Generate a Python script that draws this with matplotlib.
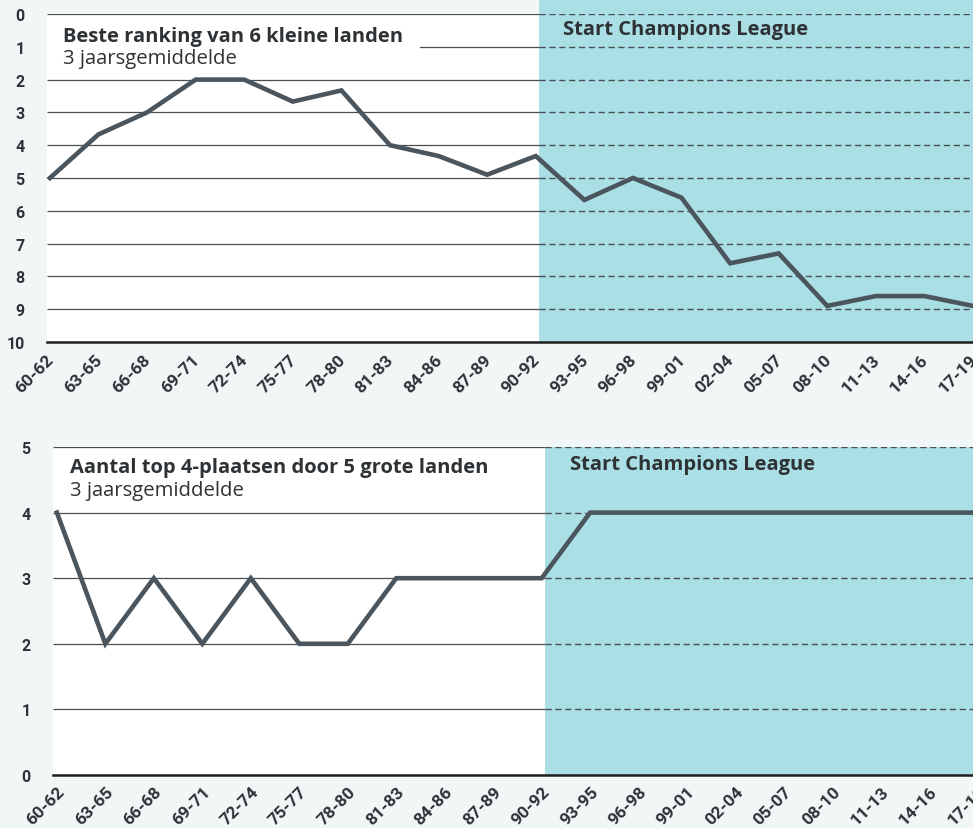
import matplotlib
matplotlib.use("Agg")
import matplotlib.pyplot as plt
from matplotlib.patches import Rectangle
from matplotlib.transforms import ScaledTranslation

plt.rcParams['font.family'] = ['Roboto', 'DejaVu Sans']

periods = ["60-62", "63-65", "66-68", "69-71", "72-74", "75-77", "78-80", "81-83",
           "84-86", "87-89", "90-92", "93-95", "96-98", "99-01", "02-04", "05-07",
           "08-10", "11-13", "14-16", "17-19"]
best_rank_small = [5.0, 3.67, 3.0, 2.0, 2.0, 2.67, 2.33, 4.0, 4.33, 4.9,
                   4.33, 5.67, 5.0, 5.6, 7.6, 7.3, 8.9, 8.6, 8.6, 8.9]
top4_big = [4, 2, 3, 2, 3, 2, 2, 3, 3, 3, 3, 4, 4, 4, 4, 4, 4, 4, 4, 4]
rank_ticks = list(range(0, 11))
top4_ticks = list(range(0, 6))

title1 = "Beste ranking van 6 kleine landen"
title2 = "Aantal top 4-plaatsen door 5 grote landen"
subtitle = "3 jaarsgemiddelde"
cl_label = "Start Champions League"
cl_start = 10.07  # start of Champions League shading (between 90-92 and 93-95)

W, H = 973, 829
BG = '#f1f6f7'
CYAN = '#abdfe6'
LINE = '#4a555e'
GRID = '#4a4f52'
TXT = '#2e3235'
TFONT = ['Open Sans', 'DejaVu Sans']

fig = plt.figure(figsize=(W / 100, H / 100), dpi=100, facecolor=BG)


def style_axes(ax, ticks, ylim, xlim, shade_top, labelpad_y, labelpad_x, dx):
    ax.set_facecolor('white')
    ax.set_xlim(*xlim)
    ax.set_ylim(*ylim)
    for s in ['left', 'right', 'top']:
        ax.spines[s].set_visible(False)
    ax.spines['bottom'].set_color('#1e1e1e')
    ax.spines['bottom'].set_linewidth(1.8)
    ax.spines['bottom'].set_zorder(6)
    r = ax.axvspan(cl_start, xlim[1] + 1, ymin=0, ymax=shade_top, color=CYAN,
                   lw=0, zorder=0)
    r.set_clip_on(False)
    for t in ticks:
        if t == max(ticks) and ylim[0] > ylim[1]:
            continue
        if t == 0 and ylim[0] < ylim[1]:
            continue
        ax.plot([xlim[0], cl_start], [t, t], color=GRID, lw=0.9, zorder=1,
                solid_capstyle='butt')
        ax.plot([cl_start, xlim[1] + 1], [t, t], color=GRID, lw=1.0, zorder=1,
                dashes=(4.5, 2.6))
    ax.set_yticks(ticks)
    ax.set_yticklabels([str(t) for t in ticks], fontsize=11.5, color=TXT,
                       fontweight='bold')
    ax.tick_params(axis='y', length=0, pad=labelpad_y)
    ax.set_xticks(range(len(periods)))
    ax.set_xticklabels(periods, rotation=45, ha='right', va='top',
                       rotation_mode='anchor', fontsize=12.5, color=TXT,
                       fontweight='bold')
    ax.tick_params(axis='x', length=0, pad=labelpad_x)
    off = ScaledTranslation(dx / 100, 0, fig.dpi_scale_trans)
    for lbl in ax.get_xticklabels():
        lbl.set_transform(lbl.get_transform() + off)


# ---- top chart ----
ax1 = fig.add_axes([47 / W, (H - 343) / H, (973 - 47) / W, 328 / H])
style_axes(ax1, rank_ticks, (10, 0), (-0.06, 19), 1.045, 16, 7, -4)
ax1.add_patch(Rectangle((-0.06, 0.45), 7.68, 1.1, facecolor='white',
                        edgecolor='none', zorder=2))
ax1.plot(range(len(periods)), best_rank_small, color=LINE, lw=3.3, zorder=5,
         solid_joinstyle='miter', clip_on=False)
fig.text(63 / W, 1 - 42 / H, title1, fontsize=14.5, fontweight='bold',
         color=TXT, va='baseline', family=TFONT)
fig.text(63 / W, 1 - 64 / H, subtitle, fontsize=14.6, color=TXT,
         va='baseline', family=TFONT)
fig.text(563 / W, 1 - 35 / H, cl_label, fontsize=14.5, fontweight='bold',
         color=TXT, va='baseline', family=TFONT)

# ---- bottom chart ----
ax2 = fig.add_axes([53 / W, 53 / H, (978 - 53) / W, 328 / H])
style_axes(ax2, top4_ticks, (0, 5), (-0.08, 19), 1.0, 16, 6, 0)
ax2.plot(range(len(periods)), top4_big, color=LINE, lw=3.3, zorder=5,
         solid_joinstyle='miter', clip_on=False)
fig.text(70 / W, 1 - 473 / H, title2, fontsize=14.5, fontweight='bold',
         color=TXT, va='baseline', family=TFONT)
fig.text(70 / W, 1 - 496 / H, subtitle, fontsize=14.6, color=TXT,
         va='baseline', family=TFONT)
fig.text(570 / W, 1 - 470 / H, cl_label, fontsize=14.5, fontweight='bold',
         color=TXT, va='baseline', family=TFONT)

fig.savefig('out.png', dpi=100, facecolor=BG)
